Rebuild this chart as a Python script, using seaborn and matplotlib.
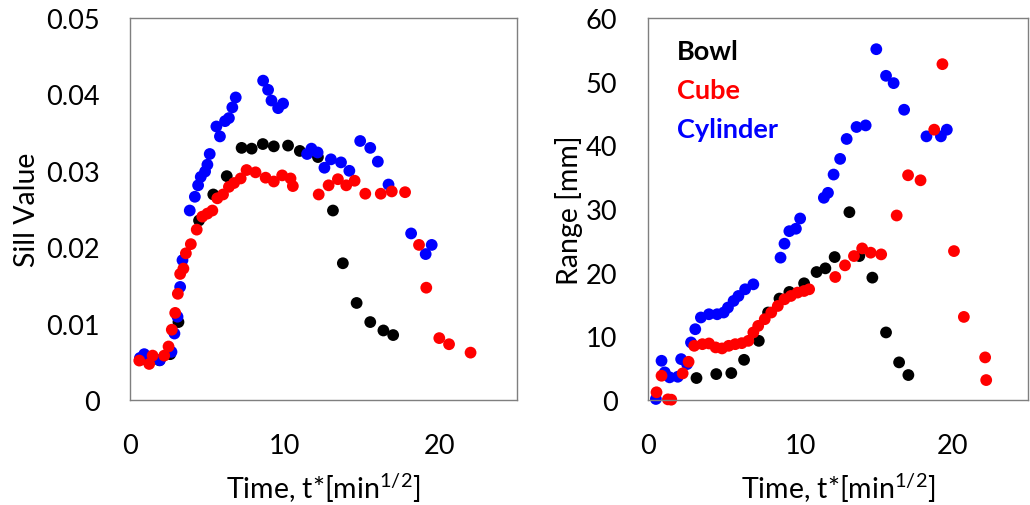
import numpy as np
import pandas as pd
import matplotlib
matplotlib.use("Agg")
import matplotlib.pyplot as plt
import seaborn as sns

sns.set_theme(style="white")
plt.rcParams['font.family'] = ['Lato', 'DejaVu Sans']
plt.rcParams['mathtext.fontset'] = 'custom'
plt.rcParams['mathtext.rm'] = 'Lato'
plt.rcParams['mathtext.it'] = 'Lato'

# ---------------- Left panel: Sill value ----------------
sill_bowl_t = [0.7, 1.2, 1.9, 2.6, 3.13, 4.46, 5.38, 6.25, 7.21, 7.86, 8.58, 9.29, 10.21,
               10.97, 12.14, 13.11, 13.75, 14.64, 15.52, 16.37, 17.00]
sill_bowl_v = [0.0053, 0.0056, 0.0052, 0.0060, 0.0102, 0.0235, 0.0269, 0.0293, 0.0330,
               0.0329, 0.0335, 0.0332, 0.0333, 0.0326, 0.0318, 0.0248, 0.0179, 0.0127,
               0.0102, 0.0091, 0.0085]

sill_cube_t = [0.60, 1.24, 1.46, 2.21, 2.49, 2.70, 2.92, 3.09, 3.24, 3.45, 3.61, 3.93,
               4.31, 4.67, 5.00, 5.32, 5.64, 6.01, 6.39, 6.72, 7.15, 7.53, 8.11, 8.76,
               9.29, 9.83, 10.37, 10.52, 12.19, 12.83, 13.43, 13.97, 14.51, 15.20, 16.20,
               16.91, 17.77, 18.67, 19.14, 19.98, 20.61, 22.00]
sill_cube_v = [0.00516, 0.00472, 0.00581, 0.00581, 0.0070, 0.0092, 0.0114, 0.0139,
               0.0165, 0.0172, 0.0192, 0.0204, 0.0223, 0.0240, 0.0244, 0.0248, 0.0264,
               0.0269, 0.0279, 0.0284, 0.0290, 0.0301, 0.0298, 0.0291, 0.0286, 0.0294,
               0.0290, 0.0280, 0.0269, 0.0281, 0.0289, 0.0281, 0.0287, 0.0270, 0.0270,
               0.0273, 0.0272, 0.0203, 0.0147, 0.0081, 0.0073, 0.0062]

sill_cyl_t = [0.64, 0.92, 1.93, 2.68, 2.87, 3.07, 3.24, 3.39, 3.86, 4.19, 4.40, 4.57,
              4.85, 5.00, 5.15, 5.58, 5.81, 6.14, 6.39, 6.61, 6.83, 8.60, 8.92, 9.14,
              9.57, 9.89, 11.44, 11.72, 12.12, 12.56, 12.98, 13.63, 14.17, 14.87, 15.52,
              16.01, 16.70, 18.16, 19.10, 19.49]
sill_cyl_v = [0.0055, 0.0060, 0.0052, 0.0063, 0.0087, 0.0109, 0.0148, 0.0183, 0.0248,
              0.0266, 0.0281, 0.0292, 0.0299, 0.0308, 0.0322, 0.0358, 0.0345, 0.0365,
              0.0369, 0.0383, 0.0396, 0.0418, 0.0406, 0.0392, 0.0382, 0.0388, 0.0322,
              0.0329, 0.0324, 0.0304, 0.0315, 0.0311, 0.0300, 0.0339, 0.0330, 0.0312,
              0.0282, 0.0218, 0.0191, 0.0203]

# ---------------- Right panel: Range ----------------
rng_bowl_t = [3.19, 4.49, 5.48, 6.32, 7.29, 7.90, 8.65, 9.30, 10.27, 11.09, 11.67, 12.28,
              13.25, 13.90, 14.76, 15.66, 16.52, 17.13]
rng_bowl_v = [3.45, 4.07, 4.23, 6.31, 9.29, 13.74, 15.93, 16.97, 18.33, 20.10, 20.68,
              22.45, 29.50, 22.61, 19.22, 10.61, 5.91, 3.92]

rng_cube_t = [0.56, 0.89, 1.31, 1.53, 2.28, 2.67, 3.04, 3.58, 4.01, 4.45, 4.87, 5.31,
              5.74, 6.17, 6.60, 6.93, 7.25, 7.68, 8.11, 8.54, 8.98, 9.40, 9.84, 10.27,
              10.60, 12.32, 12.96, 13.55, 14.09, 14.65, 15.34, 16.36, 17.11, 17.93, 18.83,
              19.37, 20.13, 20.78, 22.18, 22.25]
rng_cube_v = [1.21, 3.81, 0.10, 0.05, 4.18, 6.00, 8.51, 8.77, 8.88, 8.26, 8.10, 8.51,
              8.77, 8.93, 9.29, 10.61, 11.64, 12.69, 13.74, 14.77, 15.82, 16.34, 16.87,
              17.12, 17.39, 19.32, 21.15, 22.61, 23.81, 23.14, 22.87, 28.98, 35.30, 34.51,
              42.46, 52.75, 23.39, 13.05, 6.69, 3.13]

rng_cyl_t = [0.52, 0.89, 1.10, 1.42, 1.96, 2.18, 2.57, 2.83, 3.11, 3.48, 4.01, 4.55,
             4.98, 5.26, 5.63, 5.95, 6.39, 6.93, 8.72, 8.98, 9.30, 9.73, 10.01, 11.57,
             11.84, 12.21, 12.64, 13.07, 13.72, 14.32, 15.02, 15.66, 16.16, 16.85, 18.32,
             19.27, 19.66]
rng_cyl_v = [0.16, 6.16, 4.34, 3.56, 3.65, 6.42, 5.64, 9.04, 11.12, 12.96, 13.47, 13.47,
             13.74, 14.52, 15.56, 16.34, 17.39, 18.17, 22.36, 24.55, 26.52, 26.90, 28.51,
             31.76, 32.54, 35.41, 37.87, 41.00, 42.88, 43.13, 55.10, 50.92, 49.77, 45.59,
             41.41, 41.41, 42.46]

series_names = ["Bowl", "Cube", "Cylinder"]
series_colors = {"Bowl": "#000000", "Cube": "#FF0000", "Cylinder": "#0000FF"}
draw_order = ["Bowl", "Cylinder", "Cube"]


def make_df(data):
    frames = []
    for name in draw_order:
        t, v = data[name]
        frames.append(pd.DataFrame({"t": t, "v": v, "shape": name}))
    return pd.concat(frames, ignore_index=True)


df_sill = make_df({"Bowl": (sill_bowl_t, sill_bowl_v),
                   "Cube": (sill_cube_t, sill_cube_v),
                   "Cylinder": (sill_cyl_t, sill_cyl_v)})
df_rng = make_df({"Bowl": (rng_bowl_t, rng_bowl_v),
                  "Cube": (rng_cube_t, rng_cube_v),
                  "Cylinder": (rng_cyl_t, rng_cyl_v)})

fig = plt.figure(figsize=(10.30, 5.06), dpi=100)
ax1 = fig.add_axes([130 / 1030, 1 - 401 / 506, (517 - 130) / 1030, (401 - 19) / 506])
ax2 = fig.add_axes([648 / 1030, 1 - 401 / 506, (1028 - 648) / 1030, (401 - 19) / 506])

TICK_FS = 19.5
LABEL_FS = 20.5

for ax, df in ((ax1, df_sill), (ax2, df_rng)):
    for name in draw_order:
        sub = df[df["shape"] == name]
        sns.scatterplot(data=sub, x="t", y="v", ax=ax, color=series_colors[name],
                        s=72, edgecolor="none", linewidth=0, legend=False, clip_on=False)
    ax.set_xlim(0, 25)
    ax.set_xticks([0, 10, 20])
    for sp in ax.spines.values():
        sp.set_visible(True)
        sp.set_color("#7f7f7f")
        sp.set_linewidth(1.0)
    ax.tick_params(axis="both", length=0, labelsize=TICK_FS, colors="#000000")
    ax.tick_params(axis="y", pad=22)
    ax.tick_params(axis="x", pad=24)
    ax.set_xlabel("Time, t*[min$^{1/2}$]", fontsize=LABEL_FS, labelpad=9, color="black")
    ax.grid(False)

ax1.set_ylim(0, 0.05)
ax1.set_yticks([0, 0.01, 0.02, 0.03, 0.04, 0.05])
ax1.set_yticklabels(["0", "0.01", "0.02", "0.03", "0.04", "0.05"])
ax1.set_ylabel("Sill Value", fontsize=LABEL_FS, labelpad=4, color="black")

ax2.set_ylim(0, 60)
ax2.set_yticks([0, 10, 20, 30, 40, 50, 60])
ax2.set_ylabel("Range [mm]", fontsize=LABEL_FS, labelpad=2, color="black")

# legend as coloured text
for i, name in enumerate(series_names):
    ax2.text(0.075, 0.913 - i * 0.102, name, transform=ax2.transAxes,
             color=series_colors[name], fontsize=19.5, fontweight="bold",
             ha="left", va="center")

fig.savefig("out.png", dpi=100)
